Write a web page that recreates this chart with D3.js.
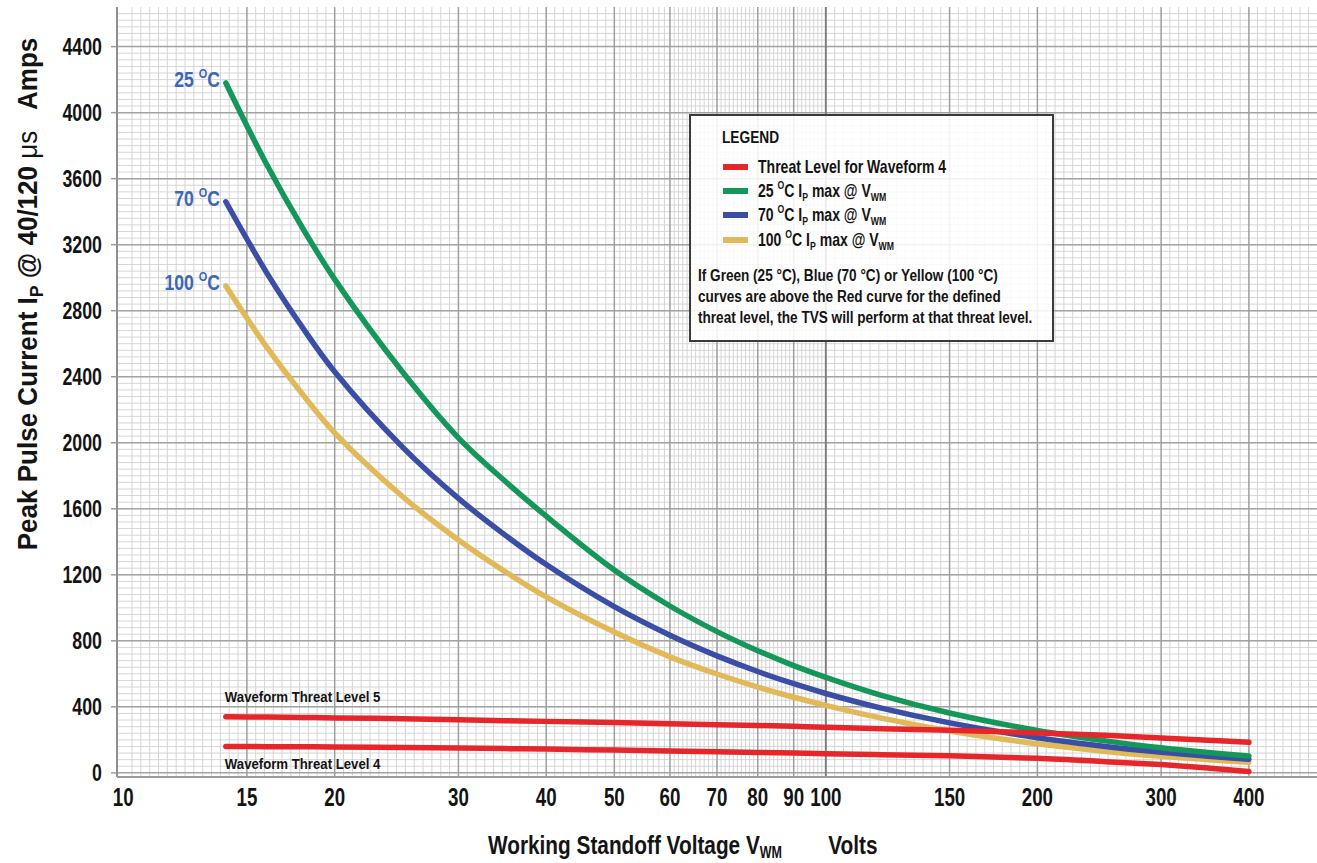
<!DOCTYPE html>
<html>
<head>
<meta charset="utf-8">
<script src="https://cdn.jsdelivr.net/npm/d3@7"></script>
<style>
  body { margin: 0; background: #fff; }
  svg { display: block; }
</style>
</head>
<body>
<svg id="chart" width="1317" height="863"></svg>
<script>
// Working standoff voltage sample points (V)
const voltages = [14, 16, 18, 20, 25, 30, 35, 40, 50, 60, 70, 80, 90, 100, 120, 150, 200, 250, 300, 350, 400];
// Maximum peak pulse current (A) at each temperature
const ip25C  = [4180, 3687, 3301, 2990, 2427, 2030, 1765, 1555, 1229, 1011, 856, 740, 650, 579, 470, 363, 257, 194, 152, 123, 102];
const ip70C  = [3460, 3031, 2698, 2430, 1972, 1663, 1439, 1262, 1007, 834, 709, 614, 540, 481, 392, 303, 213, 160, 125, 101, 83];
const ip100C = [2950, 2581, 2294, 2060, 1673, 1411, 1218, 1066, 853, 703, 599, 520, 458, 409, 332, 254, 176, 130, 100, 80, 64];
// Threat levels (A)
const threat5 = [340, 338, 336, 333, 328, 322, 316, 312, 305, 298, 292, 287, 282, 277, 268, 258, 242, 228, 212, 198, 185];
const threat4 = [160, 159, 158, 157, 154, 150, 147, 144, 138, 133, 128, 124, 120, 116, 110, 103, 88, 68, 50, 30, 8];

// Axis tick labels
const xTicks = [10, 15, 20, 30, 40, 50, 60, 70, 80, 90, 100, 150, 200, 300, 400];
const yTicks = [0, 400, 800, 1200, 1600, 2000, 2400, 2800, 3200, 3600, 4000, 4400];
// Break points used to subdivide the fine log-paper grid
const gridBreaks = [10, 15, 20, 30, 40, 50, 60, 70, 80, 90, 100, 150, 200, 300, 400, 500];

const FONT = "'Liberation Sans', Arial, sans-serif";
const COLORS = { red: "#e5262a", green: "#16975a", blue: "#3a4ea5", yellow: "#e1b958", label: "#3e66b6" };

const svg = d3.select("#chart");
const plot = { left: 117, right: 1317, top: 7, bottom: 777 };

const x = d3.scaleLog().domain([9.8, 500]).range([plot.left, plot.right]);
const y = d3.scaleLinear().domain([-25, 4640]).range([plot.bottom, plot.top]);

// ---------- text helper: condensed bold text with optional sub/superscripts ----------
function richText(parent, px, py, parts, o) {
  const t = parent.append("text")
    .attr("transform", `translate(${px},${py}) scale(${o.sx || 1},1)`)
    .attr("font-family", FONT)
    .attr("font-weight", o.weight || "bold")
    .attr("font-size", o.size)
    .attr("fill", o.fill || "#141414")
    .attr("text-anchor", o.anchor || "start")
    .style("white-space", "pre");
  let shift = 0;
  parts.forEach(p => {
    if (typeof p === "string") p = { t: p };
    const target = p.sup ? -o.size * 0.42 : p.sub ? o.size * (p.drop || 0.22) : 0;
    const ts = t.append("tspan").text(p.t).attr("dy", target - shift);
    if (p.sup || p.sub) ts.attr("font-size", o.size * (p.scale || 0.62));
    if (p.weight) ts.attr("font-weight", p.weight);
    if (p.dx) ts.attr("dx", p.dx);
    shift = target;
  });
  return t;
}

// ---------- grid ----------
const grid = svg.append("g");

// fine horizontal lines every 40 A
grid.selectAll("line.hmin")
  .data(d3.range(40, 4640, 40))
  .join("line")
  .attr("x1", plot.left).attr("x2", plot.right)
  .attr("y1", d => y(d)).attr("y2", d => y(d))
  .attr("stroke", "#d6d6d6").attr("stroke-width", 1);

// fine vertical lines, subdividing each interval of the log paper
const vMinor = [];
for (let i = 0; i < gridBreaks.length - 1; i++) {
  const a = gridBreaks[i], b = gridBreaks[i + 1];
  const x0 = x(a), gap = x(b) - x0;
  const step = (a >= 60 && b <= 100) ? 4.2 : (a >= 50 && b <= 60 ? 5.6 : 8.7);
  const n = Math.max(1, Math.round(gap / step));
  for (let k = 1; k < n; k++) vMinor.push(x.invert(x0 + gap * k / n));
}
grid.selectAll("line.vmin")
  .data(vMinor)
  .join("line")
  .attr("x1", d => x(d)).attr("x2", d => x(d))
  .attr("y1", plot.top).attr("y2", plot.bottom)
  .attr("stroke", "#d4d4d4").attr("stroke-width", 1);

// major horizontal lines
grid.selectAll("line.hmaj")
  .data(yTicks)
  .join("line")
  .attr("x1", plot.left).attr("x2", plot.right)
  .attr("y1", d => y(d)).attr("y2", d => y(d))
  .attr("stroke", "#a3a3a3").attr("stroke-width", 1.5);

// major vertical lines
grid.selectAll("line.vmaj")
  .data(xTicks.filter(d => d > 10))
  .join("line")
  .attr("x1", d => x(d)).attr("x2", d => x(d))
  .attr("y1", plot.top).attr("y2", plot.bottom)
  .attr("stroke", d => d === 100 ? "#7e7e7e" : "#9e9e9e")
  .attr("stroke-width", d => d === 100 ? 2 : 1.5);

// axis lines
grid.append("line")
  .attr("x1", plot.left).attr("x2", plot.left)
  .attr("y1", plot.top).attr("y2", plot.bottom)
  .attr("stroke", "#8f8f8f").attr("stroke-width", 2);
grid.append("line")
  .attr("x1", plot.left).attr("x2", plot.right)
  .attr("y1", plot.bottom).attr("y2", plot.bottom)
  .attr("stroke", "#9a9a9a").attr("stroke-width", 2);
grid.selectAll("line.ytick")
  .data(yTicks)
  .join("line")
  .attr("x1", plot.left - 6).attr("x2", plot.left)
  .attr("y1", d => y(d)).attr("y2", d => y(d))
  .attr("stroke", "#9a9a9a").attr("stroke-width", 1.5);

// ---------- tick labels ----------
const labels = svg.append("g");
yTicks.forEach(v => richText(labels, 102, y(v) + 8, [String(v)], { size: 24, sx: 0.74, anchor: "end" }));
xTicks.forEach(v => richText(labels, x(v), 806, [String(v)], { size: 26, sx: 0.72, anchor: "middle" }));

// ---------- axis titles ----------
const yTitle = svg.append("g").attr("transform", "translate(37,294) rotate(-90)");
richText(yTitle, 0, 0, [
  "Peak Pulse Current I", { t: "P", sub: true, scale: 0.68 },
  " @ 40/120 ", { t: "\u03bcs", weight: "normal" }, "   Amps"
], { size: 28, sx: 0.93, anchor: "middle" });

richText(svg, 488, 854, [
  "Working Standoff Voltage V", { t: "WM", sub: true, scale: 0.6, drop: 0.17 }, "        Volts"
], { size: 26, sx: 0.8 });

// ---------- curves ----------
const line = d3.line()
  .x(d => x(d[0]))
  .y(d => y(d[1]))
  .curve(d3.curveCatmullRom.alpha(0.5));

const series = [
  { values: ip100C, color: COLORS.yellow },
  { values: ip70C, color: COLORS.blue },
  { values: ip25C, color: COLORS.green },
  { values: threat5, color: COLORS.red },
  { values: threat4, color: COLORS.red }
];
svg.append("g").selectAll("path")
  .data(series)
  .join("path")
  .attr("d", s => line(voltages.map((v, i) => [v, s.values[i]])))
  .attr("fill", "none")
  .attr("stroke", s => s.color)
  .attr("stroke-width", 5.5)
  .attr("stroke-linecap", "round");

// temperature labels at curve starts
const tempLabels = [
  { name: "25", start: ip25C[0] },
  { name: "70", start: ip70C[0] },
  { name: "100", start: ip100C[0] }
];
tempLabels.forEach(t => {
  richText(svg, x(voltages[0]) - 6, y(t.start) + 4,
    [t.name + " ", { t: "O", sup: true, scale: 0.62 }, "C"],
    { size: 22, sx: 0.8, anchor: "end", fill: COLORS.label });
});

// threat level captions
richText(svg, x(voltages[0]) - 1, y(threat5[0]) - 15, ["Waveform Threat Level 5"], { size: 15, sx: 0.88 });
richText(svg, x(voltages[0]) - 1, y(threat4[0]) + 23, ["Waveform Threat Level 4"], { size: 15, sx: 0.88 });

// ---------- legend ----------
const legend = svg.append("g");
legend.append("rect")
  .attr("x", 690).attr("y", 115).attr("width", 363).attr("height", 226)
  .attr("fill", "#fff").attr("fill-opacity", 0.86)
  .attr("stroke", "#3a3a3a").attr("stroke-width", 2);

richText(legend, 722, 143, ["LEGEND"], { size: 16.5, sx: 0.83 });

const legendItems = [
  { color: COLORS.red, parts: ["Threat Level for Waveform 4"] },
  { color: COLORS.green, parts: ["25 ", { t: "O", sup: true }, "C I", { t: "P", sub: true }, " max @ V", { t: "WM", sub: true }] },
  { color: COLORS.blue, parts: ["70 ", { t: "O", sup: true }, "C I", { t: "P", sub: true }, " max @ V", { t: "WM", sub: true }] },
  { color: COLORS.yellow, parts: ["100 ", { t: "O", sup: true }, "C I", { t: "P", sub: true }, " max @ V", { t: "WM", sub: true }] }
];
const legendRowY = [167, 191, 215, 240];
legendItems.forEach((it, i) => {
  legend.append("rect")
    .attr("x", 723).attr("y", legendRowY[i] - 3).attr("width", 25).attr("height", 6)
    .attr("fill", it.color);
  richText(legend, 758, legendRowY[i] + 6, it.parts, { size: 18, sx: 0.78 });
});

const note = [
  "If Green (25 \u00b0C), Blue (70 \u00b0C) or Yellow (100 \u00b0C)",
  "curves are above the Red curve for the defined",
  "threat level, the TVS will perform at that threat level."
];
note.forEach((s, i) => richText(legend, 698, 281 + i * 21, [s], { size: 17, sx: 0.8 }));
</script>
</body>
</html>
